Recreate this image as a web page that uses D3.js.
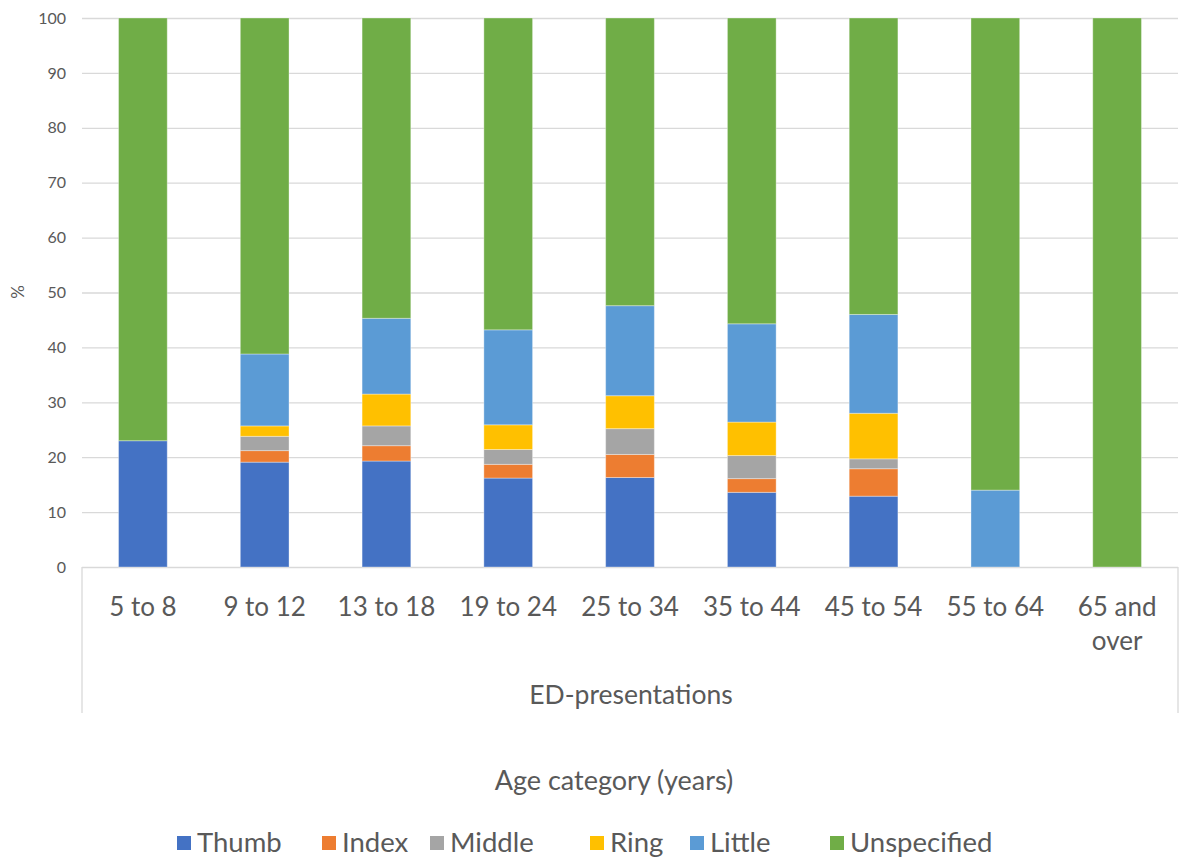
<!DOCTYPE html>
<html>
<head>
<meta charset="utf-8">
<script src="https://cdn.jsdelivr.net/npm/d3@7"></script>
<style>
  html, body { margin: 0; padding: 0; background: #fff; }
  svg { display: block; font-family: Lato, "Open Sans", sans-serif; }
</style>
</head>
<body>
<svg id="chart" width="1184" height="862"></svg>
<script>
// Age groups shown along the category axis
const categories = ["5 to 8", "9 to 12", "13 to 18", "19 to 24", "25 to 34", "35 to 44", "45 to 54", "55 to 64", "65 and over"];
// Share (%) of ED presentations by injured digit
const thumb       = [23.0, 19.1, 19.3, 16.2, 16.3, 13.6, 12.9, 0,    0];
const index       = [0,    2.1,  2.8,  2.5,  4.2,  2.5,  5.0,  0,    0];
const middle      = [0,    2.6,  3.6,  2.7,  4.7,  4.2,  1.8,  0,    0];
const ring        = [0,    1.9,  5.8,  4.5,  6.0,  6.1,  8.3,  0,    0];
const little      = [0,    13.1, 13.8, 17.3, 16.4, 17.9, 18.0, 14.0, 0];
const unspecified = [77.0, 61.2, 54.7, 56.8, 52.4, 55.7, 54.0, 86.0, 100];
const seriesNames = ["Thumb", "Index", "Middle", "Ring", "Little", "Unspecified"];
const yTicks = [0, 10, 20, 30, 40, 50, 60, 70, 80, 90, 100];

const seriesValues = [thumb, index, middle, ring, little, unspecified];
const colors = ["#4472C4", "#ED7D31", "#A5A5A5", "#FFC000", "#5B9BD5", "#70AD47"];

const rows = categories.map((c, i) => {
  const r = { cat: c };
  seriesNames.forEach((s, k) => { r[s] = seriesValues[k][i]; });
  return r;
});

const svg = d3.select("#chart");
const plotLeft = 82, plotRight = 1178, plotTop = 18, plotBottom = 567;
const textColor = "#595959", gridColor = "#d9d9d9";

const x = d3.scaleBand().domain(categories).range([plotLeft, plotRight]).paddingInner(0.6).paddingOuter(0.3);
const y = d3.scaleLinear().domain([0, 100]).range([plotBottom, plotTop]);
const color = d3.scaleOrdinal().domain(seriesNames).range(colors);

// Horizontal gridlines with value labels
const yAxis = d3.axisLeft(y).tickValues(yTicks).tickSize(-(plotRight - plotLeft)).tickPadding(16);
const gy = svg.append("g").attr("transform", `translate(${plotLeft},0)`).call(yAxis);
gy.select(".domain").remove();
gy.selectAll(".tick line").attr("stroke", gridColor).attr("stroke-width", 1.3);
gy.selectAll(".tick text").attr("fill", textColor).style("font-size", "16px").style("font-family", "Lato, sans-serif");

// Stacked bars
const stack = d3.stack().keys(seriesNames);
const layers = stack(rows);
svg.append("g").selectAll("g").data(layers).join("g")
  .attr("fill", d => color(d.key))
  .selectAll("rect").data(d => d.filter(p => p[1] - p[0] > 0)).join("rect")
  .attr("x", d => x(d.data.cat))
  .attr("width", x.bandwidth())
  .attr("y", d => y(d[1]))
  .attr("height", d => y(d[0]) - y(d[1]))
  .attr("stroke", "#ffffff").attr("stroke-opacity", 0.35).attr("stroke-width", 1);

// Category axis frame (outer group boundaries)
const frameBottom = 713;
svg.append("line").attr("x1", plotLeft).attr("x2", plotLeft).attr("y1", plotBottom).attr("y2", frameBottom)
  .attr("stroke", gridColor).attr("stroke-width", 1.3);
svg.append("line").attr("x1", plotRight).attr("x2", plotRight).attr("y1", plotBottom).attr("y2", frameBottom)
  .attr("stroke", gridColor).attr("stroke-width", 1.3);

// Category labels (wrapped where needed)
const catLabels = svg.append("g");
categories.forEach(c => {
  const words = c === "65 and over" ? ["65 and", "over"] : [c];
  const cx = x(c) + x.bandwidth() / 2;
  const t = catLabels.append("text")
    .attr("x", cx)
    .attr("y", 616)
    .attr("text-anchor", "middle")
    .attr("fill", textColor)
    .style("font-size", "26px");
  words.forEach((w, i) => {
    t.append("tspan").attr("x", cx).attr("dy", i === 0 ? 0 : 34).text(w);
  });
});

// Outer group label
svg.append("text").attr("x", (plotLeft + plotRight) / 2 + 1).attr("y", 704)
  .attr("text-anchor", "middle").attr("fill", textColor).style("font-size", "26.5px")
  .text("ED-presentations");

// Axis titles
svg.append("text").attr("x", 614).attr("y", 790)
  .attr("text-anchor", "middle").attr("fill", textColor).style("font-size", "27px")
  .text("Age category (years)");
svg.append("text").attr("transform", "translate(24,292) rotate(-90)")
  .attr("text-anchor", "middle").attr("fill", textColor).style("font-size", "17px")
  .text("%");

// Legend
const legendX = [177, 322, 430, 590, 690, 830];
const legend = svg.append("g");
seriesNames.forEach((s, i) => {
  const g = legend.append("g").attr("transform", `translate(${legendX[i]},836)`);
  g.append("rect").attr("width", 14).attr("height", 14).attr("fill", color(s));
  g.append("text").attr("x", 20).attr("y", 16).attr("fill", textColor)
    .style("font-size", "27.5px").text(s);
});
</script>
</body>
</html>
